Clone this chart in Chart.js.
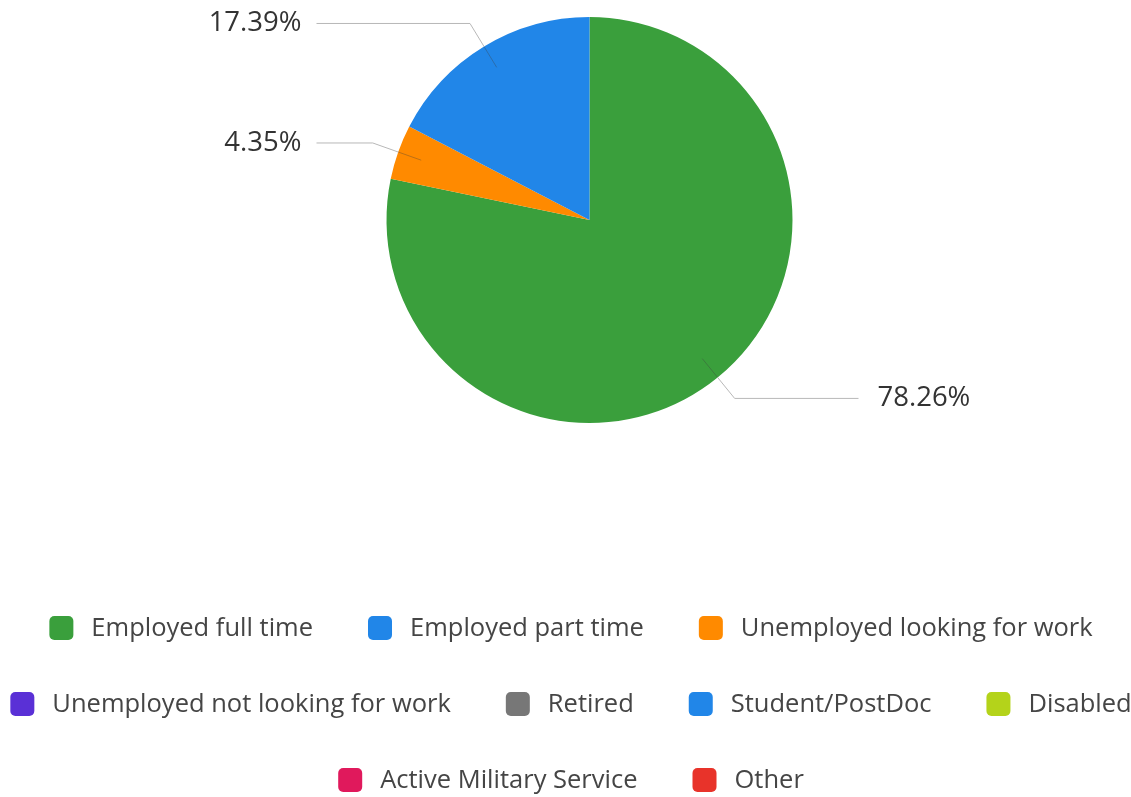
<!DOCTYPE html>
<html>
<head>
<meta charset="utf-8">
<script src="https://cdn.jsdelivr.net/npm/chart.js@4.4.0/dist/chart.umd.min.js"></script>
<style>
  html, body { margin: 0; padding: 0; background: #ffffff; overflow: hidden; }
  #wrap { position: relative; width: 1131px; height: 797px; }
</style>
</head>
<body>
<div id="wrap"><canvas id="c"></canvas></div>
<script>
const categories = [
  "Employed full time",
  "Employed part time",
  "Unemployed looking for work",
  "Unemployed not looking for work",
  "Retired",
  "Student/PostDoc",
  "Disabled",
  "Active Military Service",
  "Other"
];
const percentValues = [78.26, 0, 4.35, 0, 0, 17.39, 0, 0, 0];
const sliceColors = [
  "#3a9f3c", "#2186e8", "#ff8a00", "#5a30d6", "#777777",
  "#2186e8", "#b4d31a", "#e0195c", "#e8332a"
];

const FONT = "'Open Sans', 'Noto Sans', sans-serif";

const leaderLabels = {
  id: 'leaderLabels',
  afterDatasetsDraw(chart) {
    const ctx = chart.ctx;
    const meta = chart.getDatasetMeta(0);
    ctx.save();
    meta.data.forEach((arc, i) => {
      const v = percentValues[i];
      if (!v) return;
      const p = arc.getProps(['x', 'y', 'startAngle', 'endAngle', 'outerRadius'], true);
      const mid = (p.startAngle + p.endAngle) / 2;
      const R = p.outerRadius;
      const cos = Math.cos(mid), sin = Math.sin(mid);
      const x0 = p.x + cos * R * 0.88, y0 = p.y + sin * R * 0.88;
      const x1 = p.x + cos * R, y1 = p.y + sin * R;
      const x2 = p.x + cos * (R + 27), y2 = p.y + sin * (R + 27);
      const right = cos >= 0;
      const x3 = right ? p.x + 269 : p.x - 273;
      ctx.strokeStyle = 'rgba(60,60,60,0.35)';
      ctx.lineWidth = 1;
      ctx.beginPath();
      ctx.moveTo(x0, y0);
      ctx.lineTo(x1, y1);
      ctx.stroke();
      ctx.strokeStyle = '#b8b8b8';
      ctx.beginPath();
      ctx.moveTo(x1, y1);
      ctx.lineTo(x2, y2);
      ctx.lineTo(x3, y2);
      ctx.stroke();
      ctx.fillStyle = '#333333';
      ctx.font = "27.5px " + FONT;
      ctx.textBaseline = 'middle';
      ctx.textAlign = right ? 'left' : 'right';
      ctx.fillText(v.toFixed(2) + '%', right ? x3 + 19 : x3 - 15, y2);
    });
    ctx.restore();
  }
};

const bottomLegend = {
  id: 'bottomLegend',
  afterDraw(chart) {
    const ctx = chart.ctx;
    const box = 24, boxGap = 18, itemGap = 55, maxW = 1128;
    const centerX = 571, rowY0 = 628, rowStep = 76;
    ctx.save();
    ctx.font = "25.5px " + FONT;
    const items = categories.map((t, i) => ({
      text: t, color: sliceColors[i],
      w: box + boxGap + ctx.measureText(t).width
    }));
    const rows = [];
    let cur = [], curW = 0;
    items.forEach(it => {
      const add = cur.length ? itemGap + it.w : it.w;
      if (cur.length && curW + add > maxW) {
        rows.push({ items: cur, w: curW });
        cur = [it]; curW = it.w;
      } else {
        cur.push(it); curW += add;
      }
    });
    if (cur.length) rows.push({ items: cur, w: curW });
    rows.forEach((row, r) => {
      let x = centerX - row.w / 2;
      const y = rowY0 + r * rowStep;
      row.items.forEach(it => {
        ctx.fillStyle = it.color;
        ctx.beginPath();
        ctx.roundRect(x, y - box / 2, box, box, 5);
        ctx.fill();
        ctx.fillStyle = '#454545';
        ctx.textAlign = 'left';
        ctx.textBaseline = 'middle';
        ctx.fillText(it.text, x + box + boxGap, y + 1);
        x += it.w + itemGap;
      });
    });
    ctx.restore();
  }
};

new Chart(document.getElementById('c'), {
  type: 'pie',
  data: {
    labels: categories,
    datasets: [{
      data: percentValues,
      backgroundColor: sliceColors,
      borderWidth: 0
    }]
  },
  plugins: [leaderLabels, bottomLegend],
  options: {
    responsive: true,
    maintainAspectRatio: false,
    animation: false,
    layout: { padding: { top: 17, left: 48, right: 0, bottom: 374 } },
    plugins: {
      tooltip: { enabled: false },
      legend: { display: false }
    }
  }
});
</script>
</body>
</html>
